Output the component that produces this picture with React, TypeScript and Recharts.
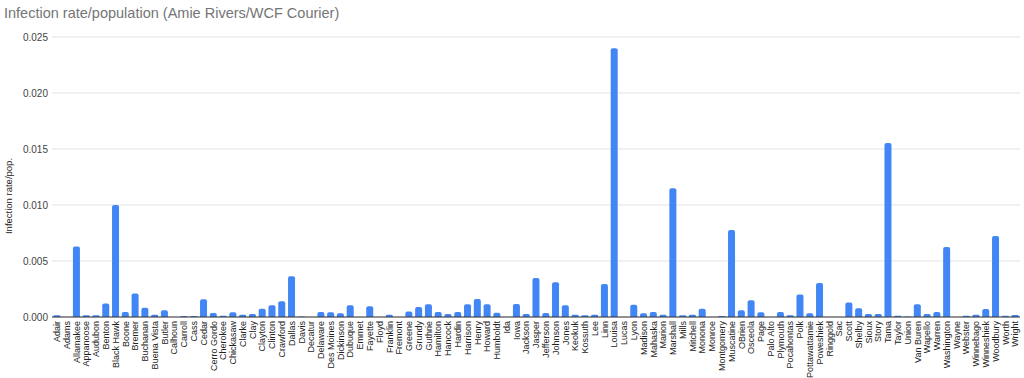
import React from 'react';
import { BarChart, Bar, XAxis, YAxis, CartesianGrid } from 'recharts';

const counties = [
  'Adair', 'Adams', 'Allamakee', 'Appanoose', 'Audubon', 'Benton', 'Black Hawk', 'Boone', 'Bremer', 'Buchanan',
  'Buena Vista', 'Butler', 'Calhoun', 'Carroll', 'Cass', 'Cedar', 'Cerro Gordo', 'Cherokee', 'Chickasaw', 'Clarke',
  'Clay', 'Clayton', 'Clinton', 'Crawford', 'Dallas', 'Davis', 'Decatur', 'Delaware', 'Des Moines', 'Dickinson',
  'Dubuque', 'Emmet', 'Fayette', 'Floyd', 'Franklin', 'Fremont', 'Greene', 'Grundy', 'Guthrie', 'Hamilton',
  'Hancock', 'Hardin', 'Harrison', 'Henry', 'Howard', 'Humboldt', 'Ida', 'Iowa', 'Jackson', 'Jasper',
  'Jefferson', 'Johnson', 'Jones', 'Keokuk', 'Kossuth', 'Lee', 'Linn', 'Louisa', 'Lucas', 'Lyon',
  'Madison', 'Mahaska', 'Marion', 'Marshall', 'Mills', 'Mitchell', 'Monona', 'Monroe', 'Montgomery', 'Muscatine',
  'OBrien', 'Osceola', 'Page', 'Palo Alto', 'Plymouth', 'Pocahontas', 'Polk', 'Pottawattamie', 'Poweshiek', 'Ringgold',
  'Sac', 'Scott', 'Shelby', 'Sioux', 'Story', 'Tama', 'Taylor', 'Union', 'Van Buren', 'Wapello',
  'Warren', 'Washington', 'Wayne', 'Webster', 'Winnebago', 'Winneshiek', 'Woodbury', 'Worth', 'Wright',
];

const rates = [
  0.00015, 0, 0.0063, 0.00015, 0.00015, 0.0012, 0.0100, 0.00045, 0.0021, 0.00083,
  0.0002, 0.0006, 0, 0.0001, 0.0001, 0.00158, 0.00035, 0.00012, 0.00042, 0.0002,
  0.00027, 0.00074, 0.00104, 0.0014, 0.00363, 0.00005, 0, 0.00045, 0.00042, 0.00033,
  0.00104, 0, 0.00095, 0, 0.0002, 0, 0.0005, 0.0009, 0.00113, 0.00045,
  0.00027, 0.00045, 0.00113, 0.0016, 0.00113, 0.00039, 0, 0.00116, 0.00027, 0.00348,
  0.00036, 0.0031, 0.00104, 0.0002, 0.00015, 0.0002, 0.00295, 0.0240, 0, 0.0011,
  0.00033, 0.00045, 0.0002, 0.0115, 0.00015, 0.0002, 0.00074, 0, 0.0001, 0.00777,
  0.0006, 0.00149, 0.00042, 0, 0.00045, 0.00015, 0.002, 0.00033, 0.00303, 0,
  0, 0.0013, 0.00078, 0.00027, 0.00027, 0.01554, 0.00012, 0.00005, 0.00113, 0.00027,
  0.00045, 0.00625, 0, 0.00012, 0.0002, 0.00071, 0.00723, 0.00012, 0.00018,
];

const yTicks = [0, 0.005, 0.01, 0.015, 0.02, 0.025];

const title = 'Infection rate/population (Amie Rivers/WCF Courier)';
const yLabel = 'Infection rate/pop.';

const data = counties.map((county, i) => ({ county, rate: rates[i] }));

const FONT = '"Liberation Sans", Arial, sans-serif';

const XTick = (props: any) => {
  const { x, y, payload } = props;
  return (
    <text
      x={0}
      y={0}
      transform={`translate(${x + 3.2},${y + 4}) rotate(-90)`}
      textAnchor="end"
      fontSize={9}
      fill="#222"
      fontFamily={FONT}
    >
      {payload.value}
    </text>
  );
};

export default function App() {
  return (
    <div style={{ position: 'absolute', left: 0, top: 0, width: 1024, height: 378, background: '#fff' }}>
      <BarChart
        width={1024}
        height={378}
        data={data}
        margin={{ top: 37, right: 4, bottom: 0, left: 0 }}
        barCategoryGap="14%"
      >
        <CartesianGrid vertical={false} stroke="#e3e3e3" />
        <XAxis
          dataKey="county"
          interval={0}
          height={61}
          tickLine={false}
          tickSize={0}
          tickMargin={0}
          axisLine={{ stroke: '#333', strokeWidth: 1 }}
          tick={<XTick />}
        />
        <YAxis
          width={52}
          domain={[0, 0.025]}
          ticks={yTicks}
          tickFormatter={(v: number) => v.toFixed(3)}
          tickLine={false}
          axisLine={false}
          tickSize={0}
          tickMargin={4}
          tick={{ fontSize: 10, fill: '#444', fontFamily: FONT }}
        />
        <Bar dataKey="rate" fill="#4285F4" radius={[2, 2, 0, 0]} isAnimationActive={false} />
      </BarChart>
      <svg
        width={1024}
        height={378}
        style={{ position: 'absolute', left: 0, top: 0, pointerEvents: 'none' }}
      >
        <text x={4} y={18} fontSize={14.5} fill="#757575" fontFamily={FONT}>
          {title}
        </text>
        <text
          x={0}
          y={0}
          transform="translate(12,196) rotate(-90)"
          textAnchor="middle"
          fontSize={9.5}
          fill="#222"
          fontFamily={FONT}
        >
          {yLabel}
        </text>
      </svg>
    </div>
  );
}
